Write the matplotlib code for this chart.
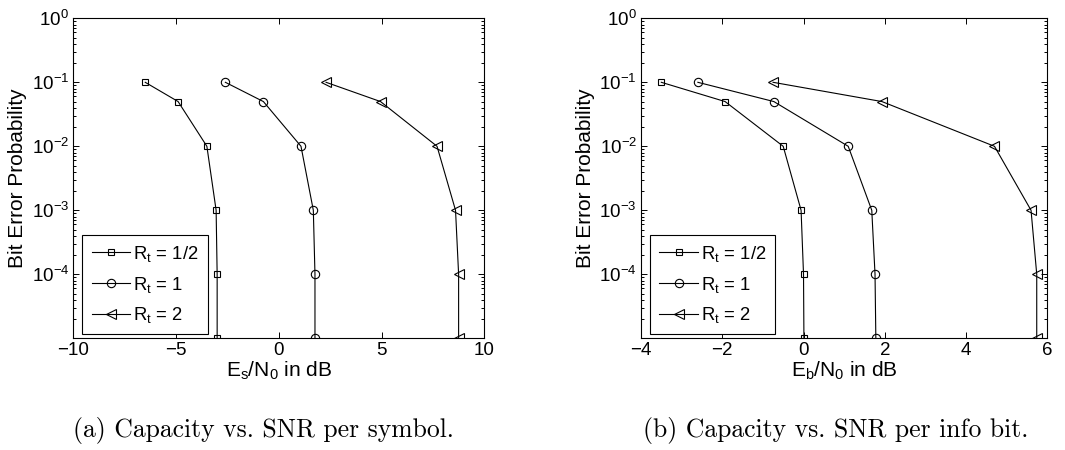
import matplotlib
matplotlib.use("Agg")
import matplotlib.pyplot as plt
from matplotlib.ticker import LogLocator, NullFormatter, FixedLocator

plt.rcParams['font.family'] = ['Liberation Sans', 'DejaVu Sans']
plt.rcParams['mathtext.fontset'] = 'custom'
plt.rcParams['mathtext.rm'] = 'Liberation Sans'
plt.rcParams['mathtext.it'] = 'Liberation Sans:italic'
plt.rcParams['mathtext.bf'] = 'Liberation Sans:bold'

# Data
ber = [1e-1, 5e-2, 1e-2, 1e-3, 1e-4, 1e-5]
es_half = [-6.5, -4.9, -3.5, -3.05, -3.0, -3.0]
es_one = [-2.6, -0.75, 1.08, 1.68, 1.76, 1.76]
es_two = [2.3, 4.95, 7.7, 8.6, 8.75, 8.75]
eb_half = [-3.5, -1.93, -0.5, -0.06, 0.0, 0.01]
eb_one = [-2.6, -0.73, 1.1, 1.68, 1.76, 1.78]
eb_two = [-0.75, 1.93, 4.7, 5.6, 5.74, 5.74]
labels = [r'R$_\mathregular{t}$ = 1/2', r'R$_\mathregular{t}$ = 1', r'R$_\mathregular{t}$ = 2']
xticks_a = [-10, -5, 0, 5, 10]
xticks_b = [-4, -2, 0, 2, 4, 6]
yticks = [1e-4, 1e-3, 1e-2, 1e-1, 1e0]
captions = ['(a) Capacity vs. SNR per symbol.', '(b) Capacity vs. SNR per info bit.']
xlabels = [r'E$_\mathregular{s}$/N$_\mathregular{0}$ in dB', r'E$_\mathregular{b}$/N$_\mathregular{0}$ in dB']

fig = plt.figure(figsize=(10.65, 4.5), dpi=100)
W, H = 1065, 450
ax_a = fig.add_axes([73.3 / W, 1 - 338.3 / H, (484.3 - 73.3) / W, 320 / H])
ax_b = fig.add_axes([641 / W, 1 - 338.3 / H, (1047.3 - 641) / W, 320 / H])

markers = [('s', 4.5), ('o', 6.0), ('<', 6.5)]
fs_tick = 13.5
fs_label = 15
fs_leg = 13.3

for ax, xs, xlim, xt, xl in [
    (ax_a, [es_half, es_one, es_two], (-10, 10), xticks_a, xlabels[0]),
    (ax_b, [eb_half, eb_one, eb_two], (-4, 6), xticks_b, xlabels[1]),
]:
    for x, (m, ms), lab in zip(xs, markers, labels):
        ax.plot(x, ber, color='black', lw=0.8, marker=m, ms=ms,
                markerfacecolor='none', markeredgecolor='black', mew=0.8, label=lab)
    ax.set_yscale('log')
    ax.set_ylim(1e-5, 1)
    ax.set_xlim(*xlim)
    ax.set_xticks(xt)
    ax.set_xticklabels([('\u2212' + str(abs(v))) if v < 0 else str(v) for v in xt])
    ax.yaxis.set_major_locator(FixedLocator(yticks))
    ax.yaxis.set_minor_locator(LogLocator(base=10, subs=range(2, 10), numticks=20))
    ax.yaxis.set_minor_formatter(NullFormatter())
    ax.tick_params(which='both', direction='in', top=True, right=True, labelsize=fs_tick, width=0.7)
    ax.tick_params(which='major', length=4, pad=3)
    ax.tick_params(which='minor', length=2.5)
    for s in ax.spines.values():
        s.set_linewidth(0.8)
    ax.set_xlabel(xl, fontsize=fs_label, labelpad=0)
    ax.set_ylabel('Bit Error Probability', fontsize=fs_label, labelpad=3)
    leg = ax.legend(loc='lower left', bbox_to_anchor=(0.022, 0.012), borderaxespad=0,
                    fontsize=fs_leg, frameon=True, fancybox=False,
                    edgecolor='black', framealpha=1, handlelength=2.1, handletextpad=0.15,
                    labelspacing=0.58, borderpad=0.5)
    leg.get_frame().set_linewidth(0.8)

fig.text(263 / W, 1 - 430 / H, captions[0], family='cmr10', fontsize=18.5, ha='center', va='center')
fig.text(836 / W, 1 - 430 / H, captions[1], family='cmr10', fontsize=18.5, ha='center', va='center')

fig.savefig('out.png', dpi=100)
